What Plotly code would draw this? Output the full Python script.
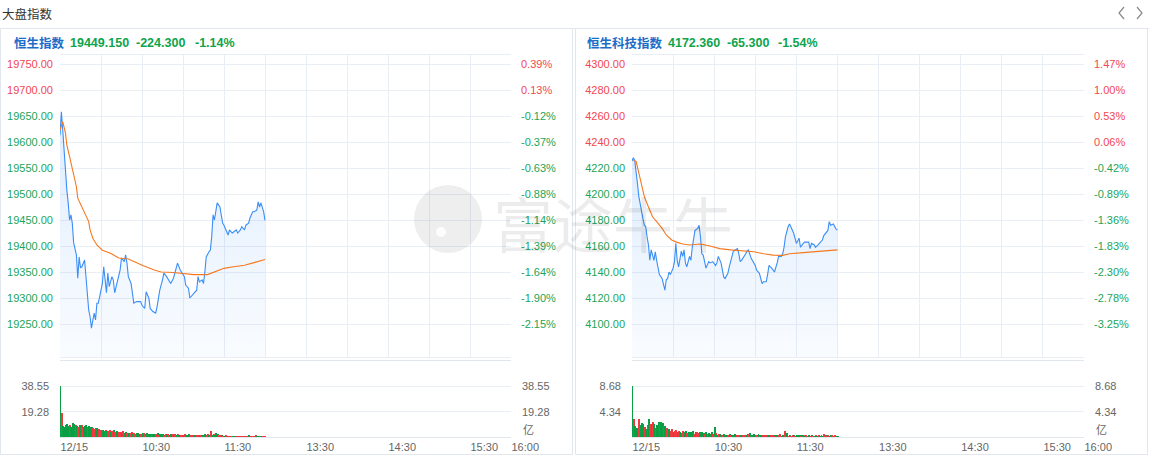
import plotly.graph_objects as go

W, H = 1149, 456

# ---------------- data ----------------
HSI_NAME = "恒生指数"
HSI_LAST = 19449.150
HSI_CHG = -224.300
HSI_PCT = "-1.14%"
HSI_PREV = 19673.45

HSTECH_NAME = "恒生科技指数"
HSTECH_LAST = 4172.360
HSTECH_CHG = -65.300
HSTECH_PCT = "-1.54%"
HSTECH_PREV = 4237.66

# minutes since 09:30 (trading-time axis, lunch break removed)
hsi_min = [0, 1, 2, 3, 4, 5, 6, 7, 8, 9, 10, 12, 13, 14, 15, 16, 18, 19, 20, 21, 22, 23, 25, 26, 27, 28, 29,
           31, 32, 33, 34, 35, 36, 38, 39, 40, 41, 42, 44, 45, 47, 48, 49, 50, 52, 54, 56, 59, 60, 62, 63,
           65, 66, 68, 70, 71, 73, 75, 76, 78, 80, 81, 83, 85, 86, 88, 89, 91, 92, 94, 95, 97, 98, 100, 101,
           102, 104, 105, 106, 107, 109, 110, 111, 112, 113, 114, 115, 117, 118, 119, 120, 122, 123, 124,
           126, 127, 129, 130, 132, 133, 135, 136, 138, 139, 141, 142, 144, 145, 146, 147, 148, 149, 150]
hsi_px = [19613, 19658, 19623, 19581, 19550, 19508, 19483, 19450, 19460, 19444, 19406, 19383, 19338, 19379,
          19358, 19360, 19373, 19341, 19300, 19277, 19264, 19242, 19271, 19258, 19290, 19290, 19302, 19328,
          19360, 19335, 19310, 19348, 19322, 19341, 19335, 19310, 19322, 19328, 19354, 19377, 19370, 19383,
          19367, 19341, 19328, 19290, 19293, 19293, 19286, 19280, 19312, 19300, 19280, 19274, 19271, 19283,
          19315, 19335, 19348, 19341, 19331, 19328, 19338, 19360, 19367, 19354, 19350, 19341, 19325, 19319,
          19300, 19306, 19310, 19315, 19341, 19331, 19335, 19328, 19350, 19379, 19389, 19392, 19418, 19460,
          19450, 19469, 19483, 19475, 19456, 19444, 19440, 19427, 19421, 19431, 19425, 19427, 19431, 19425,
          19431, 19437, 19431, 19440, 19444, 19454, 19466, 19466, 19469, 19485, 19475, 19483, 19475, 19466,
          19449.15]
hsi_avg_min = [0, 2, 4, 5, 7, 10, 12, 13, 16, 18, 21, 22, 24, 27, 31, 37, 43, 50, 54, 61, 69, 74, 83, 91,
               98, 108, 113, 120, 127, 135, 142, 150]
hsi_avg = [19623, 19639, 19617, 19594, 19572, 19540, 19514, 19492, 19476, 19463, 19447, 19431, 19415, 19402,
           19392, 19386, 19377, 19375, 19370, 19362, 19354, 19350, 19349, 19347, 19345, 19345, 19350, 19357,
           19360, 19363, 19368, 19374]

hst_min = [0, 1, 2, 3, 4, 5, 6, 7, 8, 9, 10, 11, 12, 13, 14, 16, 17, 18, 19, 20, 22, 23, 24, 25, 26, 27, 28,
           30, 31, 32, 33, 34, 36, 37, 38, 39, 40, 42, 43, 44, 45, 46, 48, 49, 50, 51, 52, 53, 54, 56, 57, 59,
           61, 62, 63, 65, 66, 67, 68, 70, 71, 72, 73, 74, 76, 77, 78, 79, 80, 82, 83, 84, 85, 87, 88, 89, 90,
           91, 93, 94, 95, 96, 98, 99, 100, 101, 102, 104, 105, 106, 107, 109, 110, 111, 112, 113, 114, 115,
           117, 118, 119, 120, 122, 123, 125, 126, 128, 129, 130, 131, 133, 134, 136, 137, 139, 140, 142, 143,
           144, 145, 147, 148, 149, 150]
hst_px = [4225.4, 4228, 4225.6, 4218, 4208, 4198, 4191.5, 4186, 4181, 4176, 4175, 4167, 4161, 4149, 4157,
          4149, 4155.6, 4149, 4143, 4138, 4135, 4129, 4126, 4134, 4135, 4140, 4138, 4143, 4148, 4162, 4149,
          4144, 4156, 4152, 4157, 4147, 4144, 4152, 4149, 4159, 4167, 4172, 4173.6, 4176, 4167, 4154, 4153,
          4149, 4143, 4148, 4147, 4148, 4145, 4147, 4152, 4147, 4141.5, 4136, 4135, 4139, 4144, 4149, 4152,
          4156, 4157, 4158, 4154, 4148, 4149, 4152, 4154, 4156, 4157, 4150.5, 4149, 4147, 4145, 4141.5, 4139,
          4135, 4131, 4132.5, 4132.5, 4138, 4145, 4144, 4143, 4140, 4143, 4147, 4152, 4152, 4154, 4159, 4167,
          4172, 4175, 4177, 4172, 4170, 4166, 4162, 4166, 4159, 4162, 4163, 4163, 4163, 4158, 4162, 4161,
          4159, 4161, 4162, 4164.6, 4168, 4171, 4172, 4178.7, 4176, 4177, 4175, 4173, 4172.36]
hst_avg_min = [1, 3, 5, 7, 9, 12, 15, 18, 22, 25, 29, 33, 37, 42, 50, 57, 64, 72, 81, 89, 96, 103, 110,
               115, 125, 137, 150]
hst_avg = [4226, 4225, 4216, 4205.6, 4198, 4190, 4182.5, 4178.7, 4173.6, 4168.5, 4164.6, 4162.8, 4161.5,
           4160.8, 4161.5, 4160, 4158, 4157, 4156.4, 4155.6, 4154, 4153, 4152.8, 4154, 4154.9, 4155.9, 4157]

# volume per minute (亿), minute 0..150; direction r = up, g = down
hsi_vol = [38.55, 18.6, 8.0, 7.8, 9.2, 10.2, 8.3, 9.4, 7.6, 10.5,
           10.0, 9.5, 8.7, 7.6, 8.8, 8.3, 9.0, 7.5, 8.4, 9.0,
           7.9, 8.2, 7.3, 7.5, 6.8, 6.3, 6.8, 7.2, 6.0, 5.6,
           5.3, 5.0, 4.6, 5.5, 4.8, 4.4, 5.0, 4.1, 4.6, 5.2,
           3.8, 4.4, 3.5, 4.0, 3.9, 3.3, 4.2, 3.0, 3.6, 3.4,
           3.1, 2.8, 3.5, 2.6, 3.0, 2.4, 2.8, 3.2, 2.5, 2.3,
           2.9, 2.7, 2.3, 3.1, 2.5, 2.2, 2.6, 2.0, 2.4, 2.1,
           2.3, 2.8, 1.9, 2.2, 2.6, 2.0, 1.8, 2.4, 1.7, 2.1,
           1.9, 2.6, 2.2, 1.6, 2.0, 1.5, 2.3, 1.8, 1.4, 1.9,
           1.8, 2.1, 1.6, 1.4, 2.0, 1.7, 1.5, 1.9, 1.6, 1.3,
           1.5, 1.2, 1.8, 1.4, 1.1, 1.6, 2.0, 1.3, 2.6, 1.9,
           4.5, 1.5, 2.2, 1.2, 3.0, 2.1, 1.0, 0.8, 1.1, 0.7,
           0.6, 0.8, 0.5, 0.7, 0.6, 0.5, 0.7, 0.5, 0.6, 0.5,
           0.4, 0.6, 0.5, 0.7, 0.5, 0.4, 0.6, 0.5, 1.0, 0.5,
           0.6, 0.4, 0.5, 1.2, 0.5, 0.6, 0.4, 0.5, 0.4, 0.5,
           0.3]
hsi_dir = ("grgggggrgg" "grgrggrggg" "rgggrrggrr" "rggrgrrgrg" "rggrrgrggr"
           "grrgrrgggr" "grrgrggrgg" "rgrgggrrgr" "ggrgrgrgrr" "grgggrrrgr"
           "rrgrgrgrrg" "rgrgggrrgr" "grrrgrgrgr" "rgrrgrrrgr" "grrrggrgrr" "g")
hst_vol = [8.68, 3.06, 1.9, 1.6, 1.5, 3.06, 2.1, 2.4, 2.3, 1.7,
           1.4, 2.1, 3.0, 2.3, 2.2, 2.6, 2.2, 1.6, 2.1, 2.5,
           2.3, 2.5, 2.4, 1.8, 1.9, 1.6, 1.2, 1.4, 1.1, 1.4,
           0.9, 1.0, 1.2, 0.8, 1.1, 0.9, 0.7, 1.0, 0.8, 1.1,
           0.7, 0.9, 0.6, 0.8, 1.0, 0.6, 0.8, 0.8, 0.7, 0.9,
           0.6, 0.8, 0.7, 0.5, 0.9, 0.6, 0.7, 0.5, 0.8, 0.6,
           1.7, 0.7, 0.4, 0.6, 0.5, 0.3, 0.4, 0.6, 0.3, 0.4,
           0.2, 0.5, 0.3, 0.4, 0.2, 0.5, 0.3, 0.4, 0.3, 0.4,
           0.3, 0.4, 0.2, 0.3, 0.6, 0.3, 0.7, 0.4, 0.3, 0.5,
           0.4, 0.3, 0.6, 0.2, 0.3, 0.2, 0.3, 0.2, 0.3, 0.2,
           0.2, 0.3, 0.2, 0.2, 0.1, 0.2, 0.3, 0.2, 0.6, 0.1,
           0.2, 1.0, 0.2, 0.7, 0.1, 0.2, 0.1, 0.3, 0.2, 0.1,
           0.3, 0.4, 0.2, 0.1, 0.2, 0.3, 0.1, 0.2, 0.1, 0.2,
           0.1, 0.2, 0.1, 0.1, 0.2, 0.1, 0.2, 0.1, 0.2, 0.1,
           0.6, 0.2, 0.1, 0.3, 0.1, 0.2, 0.3, 0.1, 0.2, 0.1,
           0.1]
hst_dir = ("grgggrgggr" "grgrgrgrgg" "rggrgrrgrr" "grrgrgrrgg" "rgrggrgrrg"
           "gggrgrgggr" "grgrgrrggg" "rgrgggrgrg" "grrgrrgrgg" "rrgrgrgrrg"
           "grrgrgrrrg" "grrgrgrrgr" "gggrgrgrgg" "rgrgrgrgrg" "rgrrggrgrg" "g")

hsi_ticks = [19750, 19700, 19650, 19600, 19550, 19500, 19450, 19400, 19350, 19300, 19250]
hst_ticks = [4300, 4280, 4260, 4240, 4220, 4200, 4180, 4160, 4140, 4120, 4100]
time_tick_min = [0, 60, 120, 180, 240, 300, 330]
time_tick_lbl = ["12/15", "10:30", "11:30", "13:30", "14:30", "15:30", "16:00"]

# ---------------- styles ----------------
FONT = "Liberation Sans, Arial, Noto Sans CJK SC, sans-serif"
RED = "#f2474f"
GREEN = "#1ba55a"
HGREEN = "#0ea44c"
BLUE_T = "#1d6cc8"
LINE = "#3a8ef6"
ORANGE = "#f5781f"
GRID = "#e9eef5"
BORDER = "#e2e7ee"
GRAY = "#666666"
VRED = "#f03a40"
VGREEN = "#0a9f45"


def px(x):
    return x / W


def py(y):
    return 1 - y / H


fig = go.Figure()

panels = [
    dict(name=HSI_NAME, last=HSI_LAST, chg=HSI_CHG, pct=HSI_PCT, prev=HSI_PREV, tmin=hsi_min, price=hsi_px,
         amin=hsi_avg_min, avg=hsi_avg, vol=hsi_vol, vdir=hsi_dir, ticks=hsi_ticks, x0=60, x1=511,
         hx=[12, 68, 134, 193]),
    dict(name=HSTECH_NAME, last=HSTECH_LAST, chg=HSTECH_CHG, pct=HSTECH_PCT, prev=HSTECH_PREV, tmin=hst_min,
         price=hst_px, amin=hst_avg_min, avg=hst_avg, vol=hst_vol, vdir=hst_dir, ticks=hst_ticks, x0=632,
         x1=1084, hx=[585, 666, 725, 776]),
]

MAIN_TOP, MAIN_BOT = 55, 357
VOL_TOP, VOL_BOT = 361, 437
TICK_TOP_PX, TICK_BOT_PX = 64, 324

annotations = []
shapes = []
layout_axes = {}

for i, p in enumerate(panels):
    n = i * 4
    xm = "x" if i == 0 else f"x{2 * i + 1}"
    xv = f"x{2 * i + 2}"
    ym, ymr, yv, yvr = [f"y{n + k}" if n + k > 1 else "y" for k in (1, 2, 3, 4)]
    xm_key = "xaxis" if xm == "x" else "xaxis" + xm[1:]
    xv_key = "xaxis" + xv[1:]
    ykeys = ["yaxis" if a == "y" else "yaxis" + a[1:] for a in (ym, ymr, yv, yvr)]

    t_hi, t_lo = p["ticks"][0], p["ticks"][-1]
    ppu = (TICK_BOT_PX - TICK_TOP_PX) / (t_hi - t_lo)
    y_hi = t_hi + (TICK_TOP_PX - MAIN_TOP) / ppu
    y_lo = t_lo - (MAIN_BOT - TICK_BOT_PX) / ppu

    fig.add_trace(go.Scatter(x=p["tmin"], y=[y_lo] * len(p["tmin"]), mode="lines", line=dict(width=0),
                             xaxis=xm, yaxis=ym, showlegend=False, hoverinfo="skip"))
    fig.add_trace(go.Scatter(x=p["tmin"], y=p["price"], mode="lines", line=dict(color=LINE, width=1.1),
                             fill="tonexty",
                             fillgradient=dict(type="vertical",
                                               colorscale=[[0, "rgba(58,142,246,0.03)"],
                                                           [1, "rgba(58,142,246,0.16)"]],
                                               start=y_lo, stop=max(p["price"])),
                             xaxis=xm, yaxis=ym, showlegend=False, hoverinfo="skip"))
    fig.add_trace(go.Scatter(x=p["amin"], y=p["avg"], mode="lines", line=dict(color=ORANGE, width=1.1),
                             xaxis=xm, yaxis=ym, showlegend=False, hoverinfo="skip"))
    fig.add_trace(go.Scatter(x=[0], y=[t_lo], mode="markers", marker=dict(opacity=0), xaxis=xm, yaxis=ymr,
                             showlegend=False, hoverinfo="skip"))

    vmax = max(p["vol"])
    vcolors = [VRED if c == "r" else VGREEN for c in p["vdir"]]
    fig.add_trace(go.Bar(x=list(range(len(p["vol"]))), y=p["vol"], marker=dict(color=vcolors, line=dict(width=0)),
                         width=0.72, offset=0, xaxis=xv, yaxis=yv, showlegend=False, hoverinfo="skip"))
    fig.add_trace(go.Scatter(x=[0], y=[0], mode="markers", marker=dict(opacity=0), xaxis=xv, yaxis=yvr,
                             showlegend=False, hoverinfo="skip"))

    dom_x = [px(p["x0"]), px(p["x1"])]

    def lbl(v, txt, prev=p["prev"]):
        c = RED if v > prev else GREEN
        return f'<span style="color:{c}">{txt}</span>'

    main_txt = [lbl(v, f"{v:.2f}") for v in p["ticks"]]
    pct_txt = [lbl(v, f"{(v / p['prev'] - 1) * 100:.2f}%") for v in p["ticks"]]

    common_x = dict(domain=dom_x, range=[0, 330], tickvals=list(range(0, 331, 30)), showgrid=True,
                    gridcolor=GRID, gridwidth=1, zeroline=False, showline=True, linecolor=GRID, mirror=True,
                    fixedrange=True, automargin=False)
    layout_axes[xm_key] = dict(common_x, anchor=ym, showticklabels=False, ticks="")
    layout_axes[xv_key] = dict(domain=dom_x, range=[0, 330], anchor=yv, tickvals=time_tick_min,
                               ticktext=time_tick_lbl, showgrid=False, zeroline=False, showline=True,
                               linecolor=BORDER, mirror=True, ticks="", ticklabelposition="outside right",
                               tickfont=dict(size=11, color=GRAY, family=FONT), ticklabelstandoff=0,
                               automargin=False)
    layout_axes[ykeys[0]] = dict(domain=[py(MAIN_BOT), py(MAIN_TOP)], range=[y_lo, y_hi], anchor=xm,
                                 tickvals=p["ticks"], ticktext=main_txt, showgrid=True, gridcolor=GRID,
                                 zeroline=False, showline=False, ticks="", ticklabelstandoff=6,
                                 tickfont=dict(size=11, family=FONT), automargin=False)
    layout_axes[ykeys[1]] = dict(overlaying=ym, side="right", anchor=xm, range=[y_lo, y_hi],
                                 tickvals=p["ticks"], ticktext=pct_txt, showgrid=False, zeroline=False,
                                 showline=False, ticks="", ticklabelstandoff=9, tickfont=dict(size=11, family=FONT),
                                 automargin=False)
    vr = [0, vmax * 1.5]
    vt = [vmax / 2, vmax]
    vtt = [f"{v + 1e-9:.2f}" for v in vt]
    layout_axes[ykeys[2]] = dict(domain=[py(VOL_BOT), py(VOL_TOP)], range=vr, anchor=xv, tickvals=vt,
                                 ticktext=vtt, showgrid=True, gridcolor=GRID, zeroline=False, showline=False,
                                 ticks="", ticklabelstandoff=10, tickfont=dict(size=11, color=GRAY, family=FONT),
                                 automargin=False)
    layout_axes[ykeys[3]] = dict(overlaying=yv, side="right", anchor=xv, range=vr, tickvals=vt, ticktext=vtt,
                                 showgrid=False, zeroline=False, showline=False, ticks="", ticklabelstandoff=10,
                                 tickfont=dict(size=11, color=GRAY, family=FONT), automargin=False)

    hx = p["hx"]
    htexts = [(p["name"], BLUE_T), (f"{p['last']:.3f}", HGREEN), (f"{p['chg']:.3f}", HGREEN), (p["pct"], HGREEN)]
    for xx, (t, c) in zip(hx, htexts):
        annotations.append(dict(x=px(xx), y=py(43), xref="paper", yref="paper", xanchor="left", yanchor="middle",
                                text=f"<b>{t}</b>", showarrow=False, font=dict(size=12.5, color=c, family=FONT)))
    annotations.append(dict(x=px(p["x1"] + 10), y=py(429), xref="paper", yref="paper", xanchor="left",
                            yanchor="middle", text="亿", showarrow=False,
                            font=dict(size=11, color=GRAY, family="Noto Sans CJK SC")))

annotations.append(dict(x=0, y=py(13), xref="paper", yref="paper", xanchor="left", yanchor="middle",
                        text="大盘指数", showarrow=False, font=dict(size=12.5, color="#333333",
                                                                    family="Noto Sans CJK SC")))
# watermark
annotations.append(dict(x=px(613), y=py(221), xref="paper", yref="paper", xanchor="center", yanchor="middle",
                        text="富途牛牛", showarrow=False,
                        font=dict(size=60, color="rgba(0,0,0,0.075)", family="Noto Sans CJK SC")))

shapes.append(dict(type="circle", xref="paper", yref="paper", x0=px(414), x1=px(482), y0=py(253), y1=py(185),
                   fillcolor="rgba(0,0,0,0.065)", line=dict(width=0), layer="above"))
shapes.append(dict(type="circle", xref="paper", yref="paper", x0=px(436), x1=px(446), y0=py(237), y1=py(227),
                   fillcolor="rgba(255,255,255,0.8)", line=dict(width=0), layer="above"))

shapes.append(dict(type="line", xref="paper", yref="paper", x0=0, x1=1, y0=py(28.5), y1=py(28.5),
                   line=dict(color=BORDER, width=1)))
shapes.append(dict(type="rect", xref="paper", yref="paper", x0=px(0.5), x1=px(572.5), y0=py(454.5),
                   y1=py(28.5), line=dict(color=BORDER, width=1)))
shapes.append(dict(type="rect", xref="paper", yref="paper", x0=px(575.5), x1=px(1147.5), y0=py(454.5),
                   y1=py(28.5), line=dict(color=BORDER, width=1)))


def ppath(pts):
    return "M " + " L ".join(f"{px(a):.5f},{py(b):.5f}" for a, b in pts)


shapes.append(dict(type="path", xref="paper", yref="paper", path=ppath([(1124, 7), (1119, 13), (1124, 19)]),
                   line=dict(color="#888888", width=1.2)))
shapes.append(dict(type="path", xref="paper", yref="paper", path=ppath([(1137, 7), (1142, 13), (1137, 19)]),
                   line=dict(color="#888888", width=1.2)))

fig.update_layout(width=W, height=H, autosize=False,
                  margin=dict(l=0, r=0, t=0, b=0, pad=0, autoexpand=False), paper_bgcolor="white",
                  plot_bgcolor="white", showlegend=False, annotations=annotations, shapes=shapes,
                  font=dict(family=FONT), bargap=0, **layout_axes)

fig.write_html("out.html", config=dict(displayModeBar=False, responsive=False),
               post_script="document.body.style.margin='0';document.body.style.padding='0';"
                           "document.body.style.overflow='hidden';"
                           "document.documentElement.style.overflow='hidden';")
